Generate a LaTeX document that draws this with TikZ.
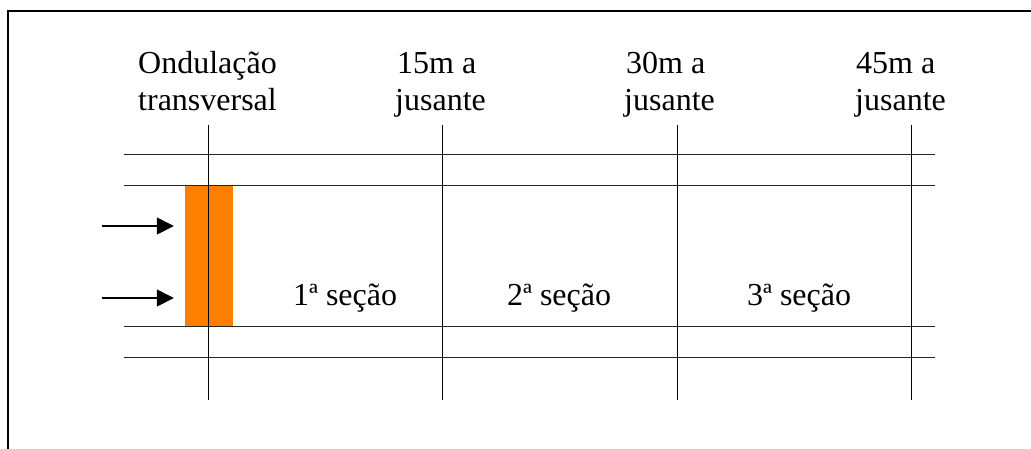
\documentclass[tikz,border=0pt]{standalone}
\usepackage{fontspec}
\setmainfont{Liberation Serif}
\newfontfamily\timesfont{Liberation Serif}
\usetikzlibrary{arrows.meta}
\definecolor{ondorange}{HTML}{FF8000}
\tikzset{
  lbl/.style={anchor=base west, inner sep=0pt, font=\timesfont\fontsize{32}{37}\selectfont},
  gridline/.style={line width=0.9pt, black!85},
  flowarrow/.style={line width=1.5pt, -{Triangle[length=17pt,width=17pt]}},
  frame/.style={line width=2pt, black}
}
\begin{document}
\begin{tikzpicture}[x=1pt, y=-1pt]
\useasboundingbox (0,0) rectangle (1031,448);
% frame (only top and left visible)
\coordinate (fTL) at (8,11);
\coordinate (fTR) at (1035,11);
\coordinate (fBL) at (8,452);
\draw[frame] (fBL) -- (fTL) -- (fTR);

% orange transverse hump
\node[fill=ondorange, draw=none, minimum width=48pt, minimum height=141pt, inner sep=0pt] (hump) at (209,255.5) {};

% horizontal lines
\foreach \n/\y in {h1/154, h2/185, h3/326, h4/357}{
  \coordinate (\n a) at (124,\y);
  \coordinate (\n b) at (935,\y);
  \draw[gridline] (\n a) -- (\n b);
}
% vertical lines
\foreach \n/\x in {v0/208, v1/442, v2/677, v3/911}{
  \coordinate (\n a) at (\x,125);
  \coordinate (\n b) at (\x,400);
  \draw[gridline, black] (\n a) -- (\n b);
}

% arrows
\coordinate (ar1) at (102,226);
\coordinate (ar2) at (102,298);
\draw[flowarrow, shorten >=11pt] (ar1) -- (ar1 -| hump.west);
\draw[flowarrow, shorten >=11pt] (ar2) -- (ar2 -| hump.west);

% labels
\node[lbl] (t0a) at (138,73) {Ondulação};
\node[lbl] (t0b) at (138,110) {transversal};
\node[lbl] (t1a) at (397,73) {15m a};
\node[lbl] (t1b) at (395,110) {jusante};
\node[lbl] (t2a) at (626,73) {30m a};
\node[lbl] (t2b) at (624,110) {jusante};
\node[lbl] (t3a) at (856,73) {45m a};
\node[lbl] (t3b) at (855,110) {jusante};
\node[lbl] (s1) at (293,305) {1ª seção};
\node[lbl] (s2) at (507,305) {2ª seção};
\node[lbl] (s3) at (747,305) {3ª seção};
\end{tikzpicture}
\end{document}
